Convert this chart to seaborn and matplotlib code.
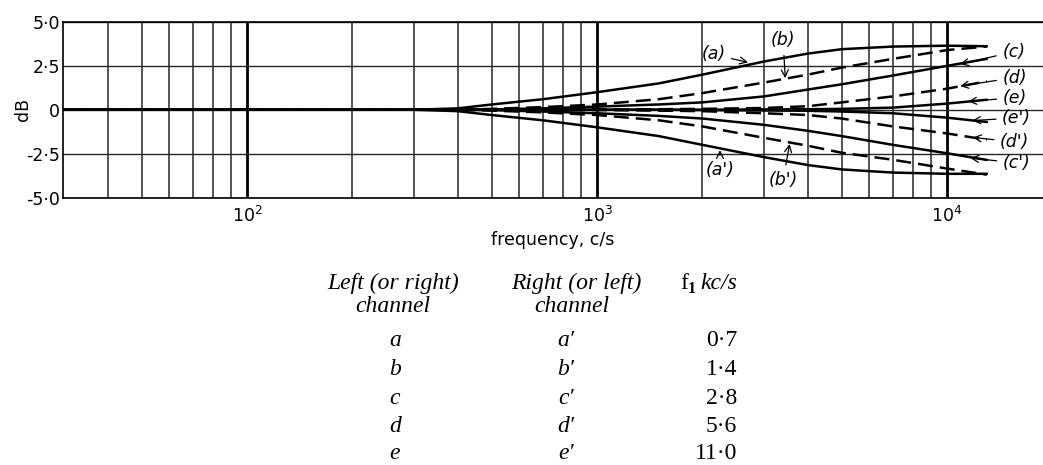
import numpy as np
import matplotlib
matplotlib.use("Agg")
import matplotlib.pyplot as plt
import seaborn as sns
import pandas as pd

freq = [30, 300, 400, 500, 700, 1000, 1500, 2000, 3000, 4000, 5000, 7000, 10000, 13000]

# left (or right) channel, dB
curve_a = [0, 0, 0.08, 0.3, 0.6, 1.0, 1.5, 2.0, 2.75, 3.2, 3.45, 3.6, 3.65, 3.62]
curve_b = [0, 0, 0.0, 0.05, 0.15, 0.3, 0.6, 0.95, 1.55, 2.0, 2.4, 2.9, 3.4, 3.6]
curve_c = [0, 0, 0, 0.02, 0.08, 0.18, 0.3, 0.42, 0.76, 1.15, 1.45, 1.95, 2.5, 2.9]
curve_d = [0, 0, 0, 0, 0, 0.02, 0.03, 0.05, 0.1, 0.2, 0.42, 0.76, 1.2, 1.62]
curve_e = [0, 0, 0, 0, 0, 0, 0, 0, 0.02, 0.03, 0.05, 0.12, 0.35, 0.57]
# right (or left) channel, dB
curve_a2 = [0, 0, -0.08, -0.3, -0.6, -1.0, -1.5, -2.0, -2.7, -3.15, -3.4, -3.58, -3.65, -3.65]
curve_b2 = [0, 0, 0, -0.05, -0.15, -0.3, -0.6, -0.95, -1.6, -2.05, -2.45, -2.85, -3.35, -3.7]
curve_c2 = [0, 0, 0, -0.02, -0.1, -0.2, -0.35, -0.5, -0.86, -1.2, -1.5, -2.0, -2.48, -2.86]
curve_d2 = [0, 0, 0, 0, 0, -0.02, -0.05, -0.08, -0.2, -0.3, -0.5, -0.95, -1.35, -1.71]
curve_e2 = [0, 0, 0, 0, 0, 0, 0, -0.02, -0.04, -0.06, -0.1, -0.2, -0.45, -0.7]

curve_names = ["a", "b", "c", "d", "e", "a'", "b'", "c'", "d'", "e'"]
curve_kind = ["solid", "dashed", "solid", "dashed", "solid",
              "solid", "dashed", "solid", "dashed", "solid"]
curves = [curve_a, curve_b, curve_c, curve_d, curve_e,
          curve_a2, curve_b2, curve_c2, curve_d2, curve_e2]

left_letters = ["a", "b", "c", "d", "e"]
right_letters = ["a\u2032", "b\u2032", "c\u2032", "d\u2032", "e\u2032"]
f1_values = ["0\u00b77", "1\u00b74", "2\u00b78", "5\u00b76", "11\u00b70"]

ytick_vals = [-5, -2.5, 0, 2.5, 5]
ytick_labels = ["-5\u00b70", "-2\u00b75", "0", "2\u00b75", "5\u00b70"]
xtick_vals = [100, 1000, 10000]
xtick_labels = [r"$10^2$", r"$10^3$", r"$10^4$"]

rows = []
for name, kind, vals in zip(curve_names, curve_kind, curves):
    for f, v in zip(freq, vals):
        rows.append({"curve": name, "kind": kind, "freq": f, "dB": v})
df = pd.DataFrame(rows)

sns.set_style("white")
plt.rcParams["font.family"] = ["DejaVu Sans"]
plt.rcParams["text.color"] = "k"
plt.rcParams["axes.labelcolor"] = "k"
plt.rcParams["xtick.color"] = "k"
plt.rcParams["ytick.color"] = "k"

W, H = 1043, 465
fig = plt.figure(figsize=(W / 100, H / 100), dpi=100)
ax = fig.add_axes([63 / W, 1 - 197.5 / H, (W - 63) / W, 175.5 / H])

sns.lineplot(data=df, x="freq", y="dB", units="curve", estimator=None,
             style="kind", dashes={"solid": "", "dashed": (6, 2.8)},
             color="k", lw=1.8, legend=False, ax=ax, zorder=3)

ax.set_xscale("log")
ax.set_xlim(29.8, 18800)
ax.set_ylim(-5, 5)
ax.set_xticks(xtick_vals, labels=xtick_labels, fontsize=12.5)
minor = [m * d for d in (10, 100, 1000) for m in range(2, 10) if 40 <= m * d <= 9000]
ax.set_xticks(minor, minor=True)
ax.set_xticklabels([], minor=True)
ax.set_yticks(ytick_vals, labels=ytick_labels, fontsize=12.5)
ax.tick_params(which="both", length=0)
ax.tick_params(axis="x", pad=6)
ax.tick_params(axis="y", pad=2)

ax.grid(True, which="major", axis="x", color="k", lw=2.0)
ax.grid(True, which="minor", axis="x", color="0.15", lw=1.1)
ax.grid(True, which="major", axis="y", color="0.15", lw=1.0)
for s in ["top", "bottom", "left"]:
    ax.spines[s].set_visible(True)
    ax.spines[s].set_color("k")
    ax.spines[s].set_linewidth(1.2)
ax.spines["right"].set_visible(False)

ax.set_xlabel("frequency, c/s", fontsize=12.5, labelpad=4)
ax.set_ylabel("dB", fontsize=12.5)
ax.yaxis.set_label_coords(-31 / (W - 63), 0.5)

# curve labels with leaders
arrow = dict(arrowstyle="->", color="k", lw=0.9, shrinkA=2, shrinkB=0)
lab_kw = dict(fontsize=12.5, fontstyle="italic", ha="center", va="center")
annots = [
    ("(a)", (2700, 2.7), (2150, 3.15)),
    ("(b)", (3450, 1.8), (3400, 3.95)),
    ("(a')", (2245, -2.3), (2245, -3.45)),
    ("(b')", (3550, -1.95), (3400, -4.0)),
    ("(c)", (10900, 2.6), (15500, 3.3)),
    ("(d)", (10900, 1.35), (15600, 1.83)),
    ("(e)", (11500, 0.47), (15600, 0.69)),
    ("(e')", (11800, -0.62), (15800, -0.46)),
    ("(d')", (11860, -1.58), (15600, -1.83)),
    ("(c')", (11660, -2.75), (15800, -3.03)),
]
for txt, xy, xyt in annots:
    ax.annotate(txt, xy=xy, xytext=xyt, arrowprops=arrow, zorder=5, **lab_kw)

# table under the chart
serif = ["Liberation Serif", "DejaVu Serif"]
tk = dict(fontsize=17, family=serif, va="center", color="k")


def fy(y):
    return 1 - y / H


fig.text(393 / W, fy(283), "Left (or right)", style="italic", ha="center", **tk)
fig.text(393 / W, fy(306), "channel", style="italic", ha="center", **tk)
fig.text(576 / W, fy(283), "Right (or left)", style="italic", ha="center", **tk)
fig.text(572 / W, fy(306), "channel", style="italic", ha="center", **tk)
fig.text(680 / W, fy(283), "f", ha="left", **tk)
fig.text(688 / W, fy(289), "1", ha="left", fontsize=11.5, weight="bold",
         family=serif, va="center", color="k")
fig.text(700 / W, fy(283), "kc/s", style="italic", ha="left", **tk)

row_y = [340, 369, 398, 426, 453]
for l, r, v, y in zip(left_letters, right_letters, f1_values, row_y):
    fig.text(395 / W, fy(y), l, style="italic", ha="center", **tk)
    fig.text(566 / W, fy(y), r, style="italic", ha="center", **tk)
    fig.text(737 / W, fy(y), v, ha="right", **tk)

fig.savefig("out.png", dpi=100)
